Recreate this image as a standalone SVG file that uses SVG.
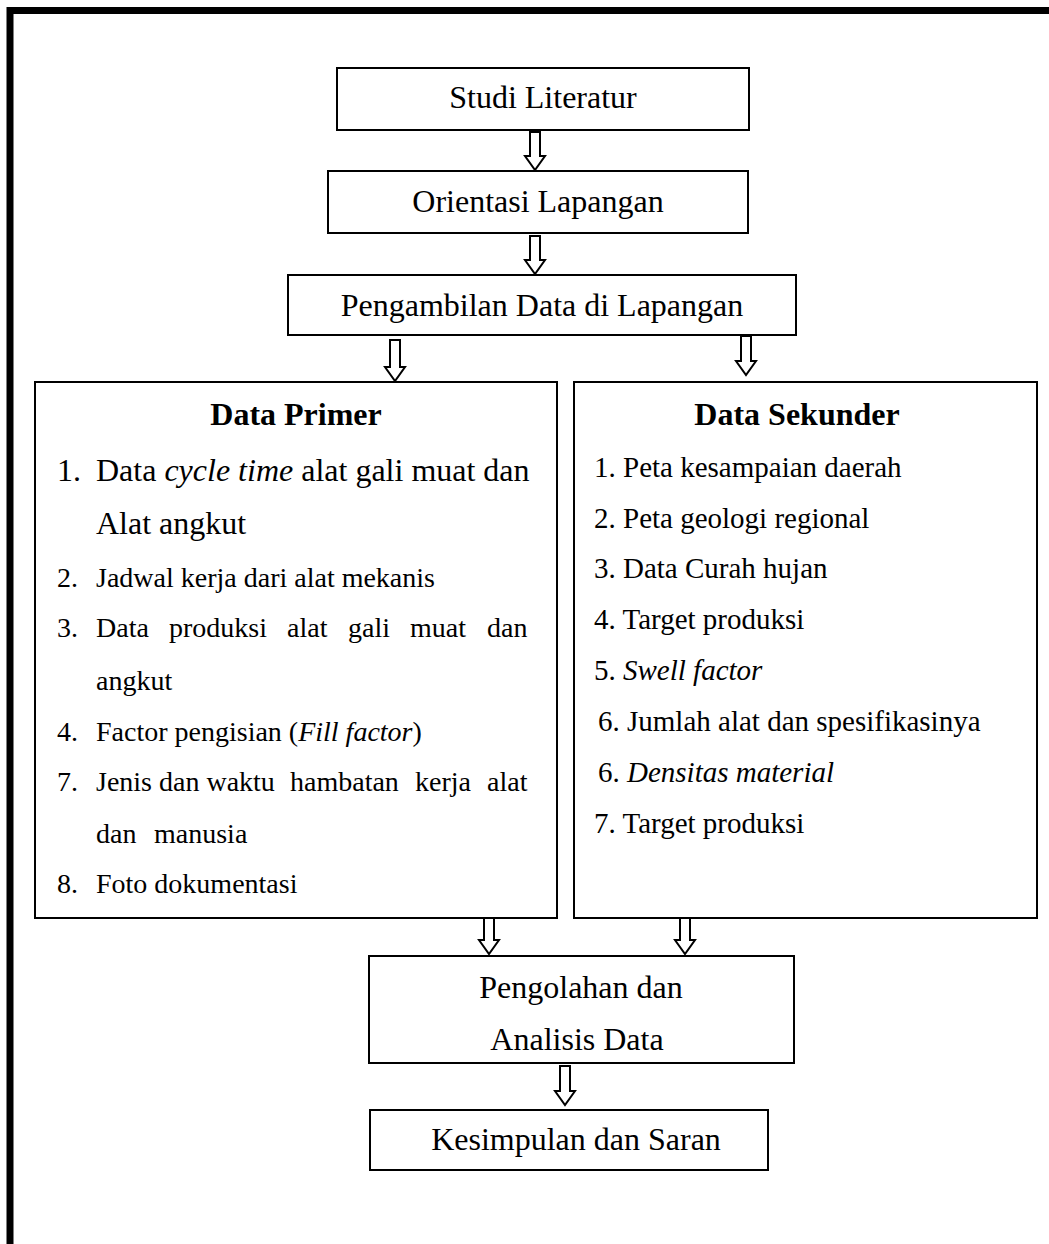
<svg xmlns="http://www.w3.org/2000/svg" width="1049" height="1244" viewBox="0 0 1049 1244">
<style>
.box{fill:#fff;stroke:#000;stroke-width:2}
.arr{fill:#fff;stroke:#000;stroke-width:2;stroke-linejoin:miter}
text{font-family:"Liberation Serif","Times New Roman",serif;fill:#000}
.t32{font-size:32px}
.t28{font-size:28px}
.t29{font-size:29px}
.b{font-weight:bold}
.c{text-anchor:middle}
.i{font-style:italic}
</style>
<rect width="1049" height="1244" fill="#fff"/>
<path d="M10,1244 V10.5 H1049" fill="none" stroke="#000" stroke-width="7"/>

<g id="connectors">
<path class="arr" d="M530,132 H540 V156 H545 L535,170 L525,156 H530 Z"/>
<path class="arr" d="M530,236 H540 V260 H545 L535,274 L525,260 H530 Z"/>
<path class="arr" d="M390,340 H400 V367 H405 L395,381 L385,367 H390 Z"/>
<path class="arr" d="M741,336 H751 V361 H756 L746,375 L736,361 H741 Z"/>
<path class="arr" d="M484,918 H494 V940 H499 L489,954 L479,940 H484 Z"/>
<path class="arr" d="M680,918 H690 V940 H695 L685,954 L675,940 H680 Z"/>
<path class="arr" d="M560,1066 H570 V1091 H575 L565,1105 L555,1091 H560 Z"/>
</g>

<g id="studi">
<rect class="box" x="337" y="68" width="412" height="62"/>
<text class="t32 c" x="543" y="108">Studi Literatur</text>
</g>
<g id="orientasi">
<rect class="box" x="328" y="171" width="420" height="62"/>
<text class="t32 c" x="538" y="212">Orientasi Lapangan</text>
</g>
<g id="pengambilan">
<rect class="box" x="288" y="275" width="508" height="60"/>
<text class="t32 c" x="542" y="316">Pengambilan Data di Lapangan</text>
</g>

<g id="primer">
<rect class="box" x="35" y="382" width="522" height="536"/>
<text class="t32 b c" x="296" y="425">Data Primer</text>
<text class="t32" x="57" y="481">1.</text>
<text class="t32" x="96" y="481">Data <tspan class="i">cycle time</tspan> alat gali muat dan</text>
<text class="t32" x="96" y="534">Alat angkut</text>
<text class="t28" x="57" y="587">2.</text>
<text class="t28" x="96" y="587">Jadwal kerja dari alat mekanis</text>
<text class="t28" x="57" y="637">3.</text>
<text class="t28" y="637"><tspan x="96">Data</tspan><tspan x="169">produksi</tspan><tspan x="287">alat</tspan><tspan x="348">gali</tspan><tspan x="410">muat</tspan><tspan x="487">dan</tspan></text>
<text class="t28" x="96" y="690">angkut</text>
<text class="t28" x="57" y="741">4.</text>
<text class="t28" x="96" y="741">Factor pengisian (<tspan class="i">Fill factor</tspan>)</text>
<text class="t28" x="57" y="791">7.</text>
<text class="t28" y="791"><tspan x="96">Jenis dan waktu</tspan><tspan x="290">hambatan</tspan><tspan x="415">kerja</tspan><tspan x="487">alat</tspan></text>
<text class="t28" y="843"><tspan x="96">dan</tspan><tspan x="154">manusia</tspan></text>
<text class="t28" x="57" y="893">8.</text>
<text class="t28" x="96" y="893">Foto dokumentasi</text>
</g>

<g id="sekunder">
<rect class="box" x="574" y="382" width="463" height="536"/>
<text class="t32 b c" x="797" y="425">Data Sekunder</text>
<text class="t29" x="594" y="477">1. Peta kesampaian daerah</text>
<text class="t29" x="594" y="528">2. Peta geologi regional</text>
<text class="t29" x="594" y="578">3. Data Curah hujan</text>
<text class="t29" x="594" y="629">4. Target produksi</text>
<text class="t29" x="594" y="680">5. <tspan class="i">Swell factor</tspan></text>
<text class="t29" x="598" y="731">6.  Jumlah alat dan spesifikasinya</text>
<text class="t29" x="598" y="782">6.  <tspan class="i">Densitas material</tspan></text>
<text class="t29" x="594" y="833">7. Target produksi</text>
</g>

<g id="pengolahan">
<rect class="box" x="369" y="956" width="425" height="107"/>
<text class="t32 c" x="581" y="998">Pengolahan dan</text>
<text class="t32 c" x="577" y="1050">Analisis Data</text>
</g>
<g id="kesimpulan">
<rect class="box" x="370" y="1110" width="398" height="60"/>
<text class="t32 c" x="576" y="1150">Kesimpulan dan Saran</text>
</g>
</svg>
